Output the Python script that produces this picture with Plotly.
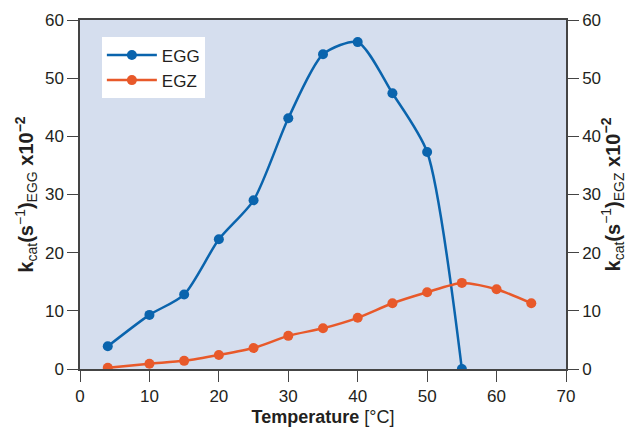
import plotly.graph_objects as go

temps_egg = [4, 10, 15, 20, 25, 30, 35, 40, 45, 50, 55]
kcat_egg = [3.9, 9.3, 12.8, 22.3, 29.0, 43.1, 54.1, 56.2, 47.4, 37.3, 0.0]
temps_egz = [4, 10, 15, 20, 25, 30, 35, 40, 45, 50, 55, 60, 65]
kcat_egz = [0.2, 0.9, 1.4, 2.4, 3.6, 5.7, 7.0, 8.8, 11.3, 13.2, 14.8, 13.7, 11.3]
x_ticks = [0, 10, 20, 30, 40, 50, 60, 70]
y_ticks = [0, 10, 20, 30, 40, 50, 60]

BLUE = "#0a64ad"
ORANGE = "#e8592a"
FONT = "Liberation Sans, Arial, sans-serif"
TXT = "#231f20"

fig = go.Figure()
fig.add_trace(go.Scatter(x=temps_egg, y=kcat_egg, name="EGG", mode="lines+markers",
                         line=dict(color=BLUE, width=2.5, shape="spline", smoothing=0.7),
                         marker=dict(color=BLUE, size=10)))
fig.add_trace(go.Scatter(x=temps_egz, y=kcat_egz, name="EGZ", mode="lines+markers",
                         line=dict(color=ORANGE, width=2.5, shape="spline", smoothing=0.7),
                         marker=dict(color=ORANGE, size=10), yaxis="y2"))

axis_common = dict(showgrid=False, zeroline=False, showline=True, linecolor="#444444", linewidth=1.5,
                   ticks="outside", ticklen=11, tickwidth=1.2, tickcolor="#444444",
                   automargin=False,
                   tickfont=dict(family=FONT, size=17, color=TXT))

ytitle_egg = "<b>k</b><sub>cat</sub><b>(s</b><sup>−1</sup><b>)</b><sub>EGG</sub> <b>x10</b><sup><b>−2</b></sup>"
ytitle_egz = "<b>k</b><sub>cat</sub><b>(s</b><sup>−1</sup><b>)</b><sub>EGZ</sub> <b>x10</b><sup><b>−2</b></sup>"

fig.update_layout(
    width=627, height=427,
    margin=dict(l=80, r=61, t=20, b=58),
    paper_bgcolor="white", plot_bgcolor="#d5deee",
    font=dict(family=FONT, color=TXT),
    showlegend=True,
    legend=dict(x=0.045, y=0.95, xanchor="left", yanchor="top", bgcolor="white",
                font=dict(family=FONT, size=17, color=TXT), borderwidth=0,
                itemwidth=50, tracegroupgap=0),
    xaxis=dict(range=[0, 70], tickvals=x_ticks, mirror=True,
               title=dict(text="<b>Temperature</b> [°C]", font=dict(family=FONT, size=18, color=TXT), standoff=8),
               **axis_common),
    yaxis=dict(range=[0, 60], tickvals=y_ticks,
               title=dict(text=ytitle_egg, font=dict(family=FONT, size=20, color=TXT), standoff=6),
               **axis_common),
    yaxis2=dict(range=[0, 60], tickvals=y_ticks, overlaying="y", side="right",
                title=dict(text=ytitle_egz, font=dict(family=FONT, size=20, color=TXT), standoff=6),
                **axis_common),
)
fig.write_html("out.html", config={"displayModeBar": False},
               post_script="document.body.style.margin='0';document.body.style.overflow='hidden';")
